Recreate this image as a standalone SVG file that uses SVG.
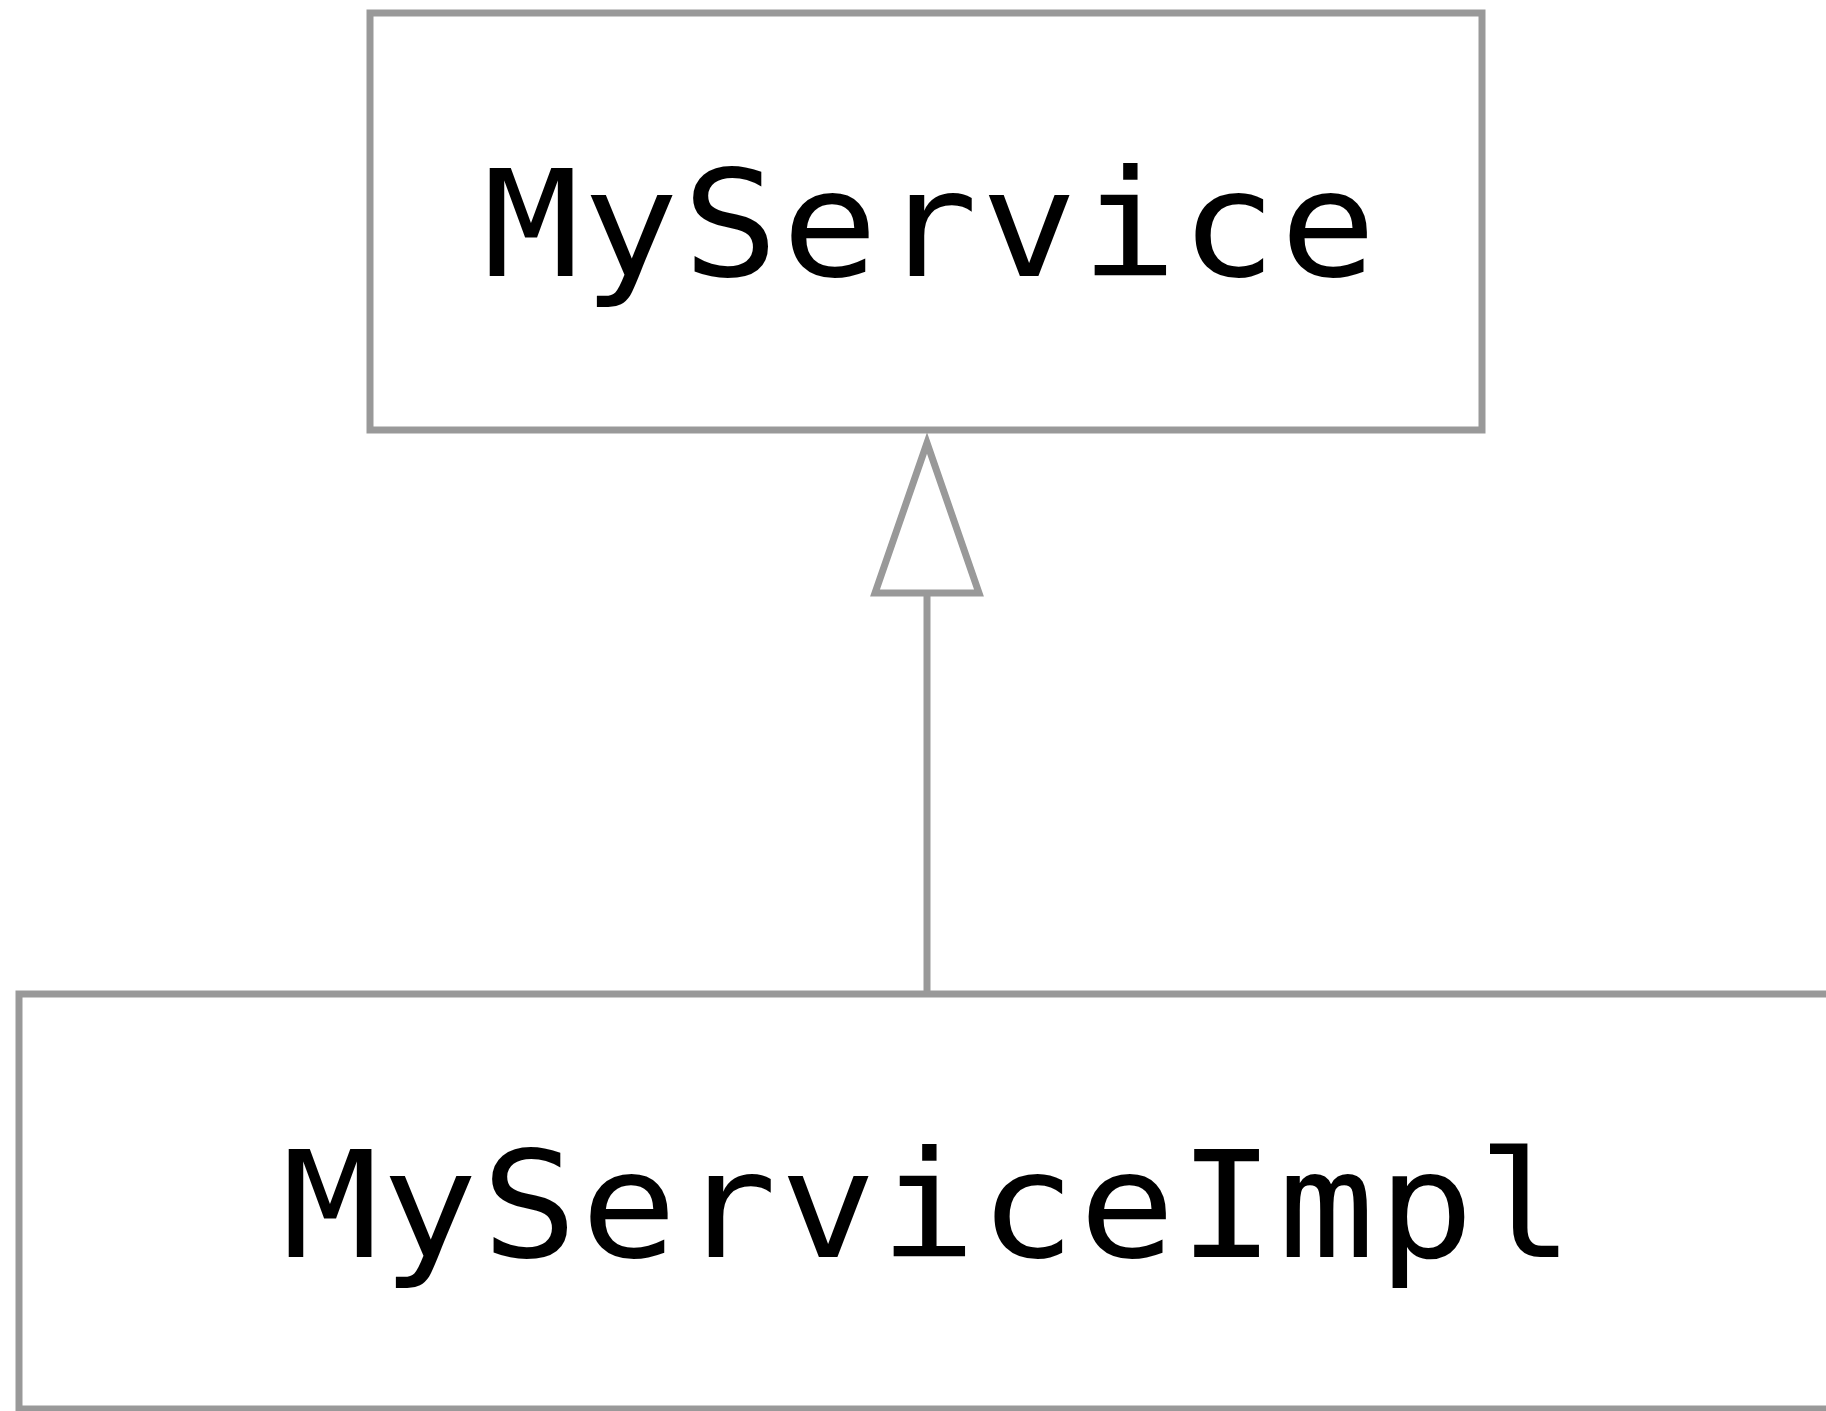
<svg xmlns="http://www.w3.org/2000/svg" width="1826" height="1411" viewBox="0 0 1826 1411">
<style>
.box{fill:#fff;stroke:#999;stroke-width:7}
.lbl{font-family:"DejaVu Sans Mono",monospace;font-size:160px;letter-spacing:3.3px;fill:#000}
.edge{fill:none;stroke:#999;stroke-width:7}
</style>
<rect width="1826" height="1411" fill="#fff"/>
<g id="node-MyService">
<rect class="box" x="370" y="13" width="1112" height="417"/>
<text class="lbl" transform="translate(483 276) scale(1 0.925)" x="0" y="0">MyService</text>
</g>
<g id="node-MyServiceImpl">
<rect class="box" x="19" y="994" width="1840" height="415"/>
<text class="lbl" transform="translate(282 1257) scale(1 0.925)" x="0" y="0">MyServiceImpl</text>
</g>
<g id="connectors">
<line class="edge" x1="927" y1="994" x2="927" y2="593"/>
<polygon class="edge" points="927,443 979,593 875,593"/>
</g>
</svg>
